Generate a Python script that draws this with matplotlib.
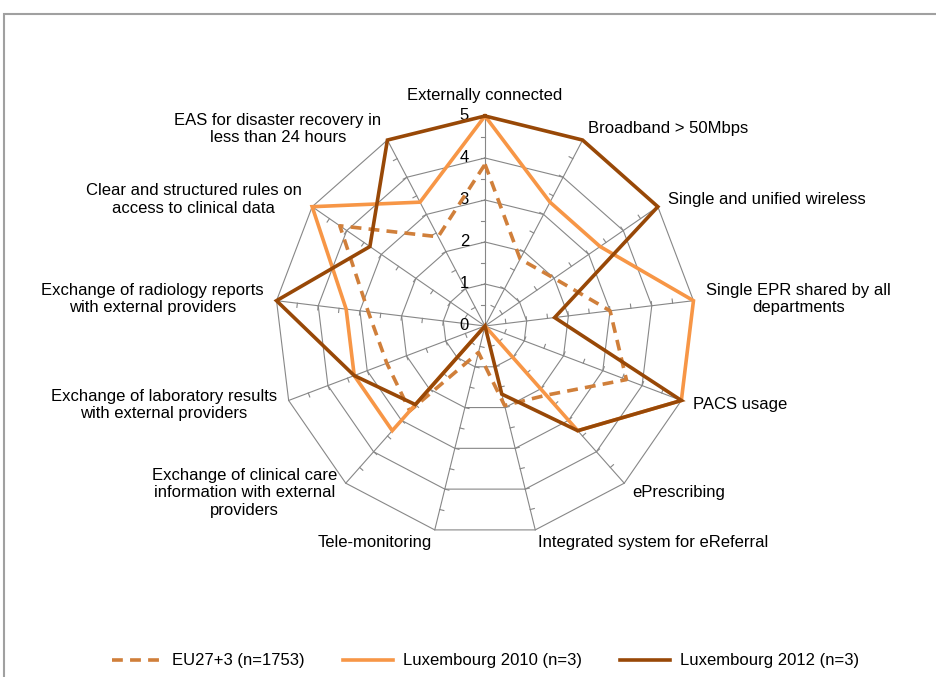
import numpy as np
import matplotlib.pyplot as plt
from matplotlib.lines import Line2D
from matplotlib.patches import Rectangle

plt.rcParams['font.family'] = ['Liberation Sans', 'DejaVu Sans']

categories = [
    "Externally connected",
    "Broadband > 50Mbps",
    "Single and unified wireless",
    "Single EPR shared by all\ndepartments",
    "PACS usage",
    "ePrescribing",
    "Integrated system for eReferral",
    "Tele-monitoring",
    "Exchange of clinical care\ninformation with external\nproviders",
    "Exchange of laboratory results\nwith external providers",
    "Exchange of radiology reports\nwith external providers",
    "Clear and structured rules on\naccess to clinical data",
    "EAS for disaster recovery in\nless than 24 hours",
]
eu = [3.85, 1.8, 2.0, 3.0, 3.6, 2.2, 1.95, 0.65, 2.7, 2.5, 2.8, 4.2, 2.4]
lux2010 = [5, 3.33, 3.33, 5, 5, 3.33, 0, 0, 3.33, 3.33, 3.33, 5, 3.33]
lux2012 = [5, 5, 5, 1.67, 5, 3.33, 1.67, 0, 2.5, 3.33, 5, 3.33, 5]
series_names = ["EU27+3 (n=1753)", "Luxembourg 2010 (n=3)", "Luxembourg 2012 (n=3)"]
levels = [0, 1, 2, 3, 4, 5]

c_eu = "#D07F3A"
c_10 = "#F79646"
c_12 = "#984807"
grid_c = "#878787"

n = len(categories)
theta = 2 * np.pi * np.arange(n) / n
sx, sy = np.sin(theta), np.cos(theta)


def to_xy(vals):
    v = np.asarray(vals, dtype=float)
    x = v * sx
    y = v * sy
    return np.append(x, x[0]), np.append(y, y[0])


fig = plt.figure(figsize=(9.36, 6.77), dpi=100)
W, H = 936, 677
cx, cy, unit = 485, 326, 42
half = 6 * unit
ax = fig.add_axes([(cx - half) / W, (H - cy - half) / H, 2 * half / W, 2 * half / H])
ax.set_xlim(-6, 6)
ax.set_ylim(-6, 6)
ax.set_aspect('equal')
ax.axis('off')

# outer frame of the chart area
fig.patches.append(Rectangle((4 / W, -0.1), 1.2, 1 - 14 / H + 0.1, transform=fig.transFigure,
                             fill=False, edgecolor="#A0A0A0", linewidth=1.5))

# polygon grid and spokes
for lv in levels[1:]:
    gx, gy = to_xy([lv] * n)
    ax.plot(gx, gy, color=grid_c, lw=0.8, zorder=1)
for i in range(n):
    ax.plot([0, 5 * sx[i]], [0, 5 * sy[i]], color=grid_c, lw=0.8, zorder=1)
    # small tick marks on the counter-clockwise side
    px, py = -sy[i], sx[i]
    for r in np.arange(0.5, 5, 0.5):
        ax.plot([r * sx[i], r * sx[i] + 0.1 * px], [r * sy[i], r * sy[i] + 0.1 * py],
                color=grid_c, lw=0.8, zorder=1)

# value labels
for lv in levels:
    ax.text(-0.38, lv, str(lv), ha='right', va='center', fontsize=12)

# data
x, y = to_xy(eu)
ax.plot(x, y, color=c_eu, lw=2.6, linestyle=(0, (3, 2)), zorder=3)
x, y = to_xy(lux2010)
ax.plot(x, y, color=c_10, lw=2.6, zorder=4, solid_joinstyle='miter')
x, y = to_xy(lux2012)
ax.plot(x, y, color=c_12, lw=2.6, zorder=5, solid_joinstyle='miter')

# category labels
for i, lab in enumerate(categories):
    r = 5.3
    tx, ty = r * sx[i], r * sy[i]
    if sx[i] > 0.1:
        ha = 'left'
    elif sx[i] < -0.1:
        ha = 'right'
    else:
        ha = 'center'
    va = 'bottom' if i == 0 else 'center'
    ax.text(tx, ty, lab, ha=ha, va=va, fontsize=12, multialignment='center')

handles = [
    Line2D([], [], color=c_eu, lw=2.6, linestyle=(0, (3, 2))),
    Line2D([], [], color=c_10, lw=2.6),
    Line2D([], [], color=c_12, lw=2.6),
]
fig.legend(handles, series_names, loc='center', bbox_to_anchor=(0.519, 1 - 661 / H),
           ncol=3, frameon=False, fontsize=12, handlelength=3.0, handletextpad=0.6,
           columnspacing=2.3)

fig.savefig("out.png", dpi=100)
